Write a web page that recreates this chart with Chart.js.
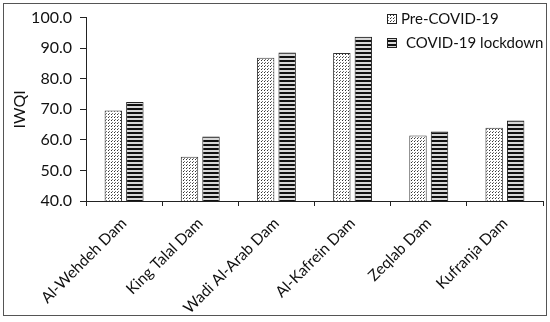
<!DOCTYPE html>
<html>
<head>
<meta charset="utf-8">
<script src="https://cdn.jsdelivr.net/npm/chart.js@4"></script>
<style>
  html, body { margin: 0; padding: 0; background: #fff; }
  #wrap { width: 550px; height: 322px; position: relative; }
</style>
</head>
<body>
<div id="wrap"><canvas id="chart" width="550" height="322"></canvas></div>
<script>
const dams = ['Al-Wehdeh Dam', 'King Talal Dam', 'Wadi Al-Arab Dam', 'Al-Kafrein Dam', 'Zeqlab Dam', 'Kufranja Dam'];
const preCovid = [69.6, 54.5, 86.9, 88.4, 61.4, 64.0];
const lockdown = [72.4, 61.1, 88.6, 93.7, 62.7, 66.3];
const seriesNames = ['Pre-COVID-19', 'COVID-19 lockdown'];

function dotPattern() {
  const c = document.createElement('canvas');
  c.width = 3; c.height = 3;
  const g = c.getContext('2d');
  g.fillStyle = '#fff';
  g.fillRect(0, 0, 3, 3);
  g.fillStyle = '#333';
  g.fillRect(0, 0, 1, 1);
  g.fillStyle = '#777';
  g.fillRect(1, 2, 1, 1);
  return g.createPattern(c, 'repeat');
}

function stripePattern() {
  const c = document.createElement('canvas');
  c.width = 4; c.height = 4;
  const g = c.getContext('2d');
  g.fillStyle = '#d8d8d8';
  g.fillRect(0, 0, 4, 4);
  g.fillStyle = '#111';
  g.fillRect(0, 0, 4, 2);
  return g.createPattern(c, 'repeat');
}

const font = 'Lato, "Open Sans", sans-serif';

// outer frame round the whole figure
const framePlugin = {
  id: 'frame',
  afterDraw(chart) {
    const ctx = chart.ctx;
    ctx.save();
    ctx.strokeStyle = '#555';
    ctx.lineWidth = 1;
    ctx.strokeRect(3.5, 3.5, 543, 312);
    ctx.restore();
  }
};

// legend stacked in the top right corner of the plot
const cornerLegend = {
  id: 'cornerLegend',
  afterDraw(chart) {
    const ctx = chart.ctx;
    const x = 387, y0 = 19, step = 24;
    ctx.save();
    ctx.font = '15px ' + font;
    ctx.textBaseline = 'middle';
    chart.data.datasets.forEach((ds, i) => {
      const y = y0 + i * step;
      ctx.fillStyle = ds.backgroundColor;
      ctx.fillRect(x, y - 5, 10, 10);
      ctx.strokeStyle = '#222';
      ctx.lineWidth = 1;
      ctx.strokeRect(x + 0.5, y - 4.5, 9, 9);
      ctx.fillStyle = '#111';
      ctx.fillText(ds.label, x + (i === 0 ? 14 : 19), y);
    });
    ctx.restore();
  }
};

new Chart(document.getElementById('chart').getContext('2d'), {
  type: 'bar',
  data: {
    labels: dams,
    datasets: [
      {
        label: seriesNames[0],
        data: preCovid,
        backgroundColor: dotPattern(),
        borderColor: '#333',
        borderWidth: 1,
        categoryPercentage: 0.565,
        barPercentage: 0.81,
      },
      {
        label: seriesNames[1],
        data: lockdown,
        backgroundColor: stripePattern(),
        borderColor: '#222',
        borderWidth: 1,
        categoryPercentage: 0.565,
        barPercentage: 0.81,
      },
    ],
  },
  options: {
    responsive: false,
    animation: false,
    layout: { padding: { left: 10, top: 16, right: 7, bottom: 10 } },
    scales: {
      x: {
        grid: {
          drawOnChartArea: false,
          offset: true,
          color: '#222',
          tickLength: 5,
        },
        border: { color: '#222', width: 1 },
        ticks: {
          color: '#111',
          minRotation: 45,
          maxRotation: 45,
          padding: 8,
          font: { family: font, size: 15.5 },
        },
        afterFit(scale) { scale.height = 111; },
      },
      y: {
        min: 40,
        max: 100,
        grid: {
          drawOnChartArea: false,
          color: '#222',
          tickLength: 6,
        },
        border: { color: '#222', width: 1 },
        ticks: {
          stepSize: 10,
          color: '#111',
          padding: 8,
          font: { family: font, size: 16 },
          callback: (v) => v.toFixed(1),
        },
        title: {
          display: true,
          text: 'IWQI',
          color: '#111',
          font: { family: font, size: 16 },
          padding: { top: 0, bottom: 0 },
        },
        afterFit(scale) { scale.width = 76; },
      },
    },
    plugins: {
      legend: { display: false },
      tooltip: { enabled: false },
    },
  },
  plugins: [framePlugin, cornerLegend],
});
</script>
</body>
</html>
